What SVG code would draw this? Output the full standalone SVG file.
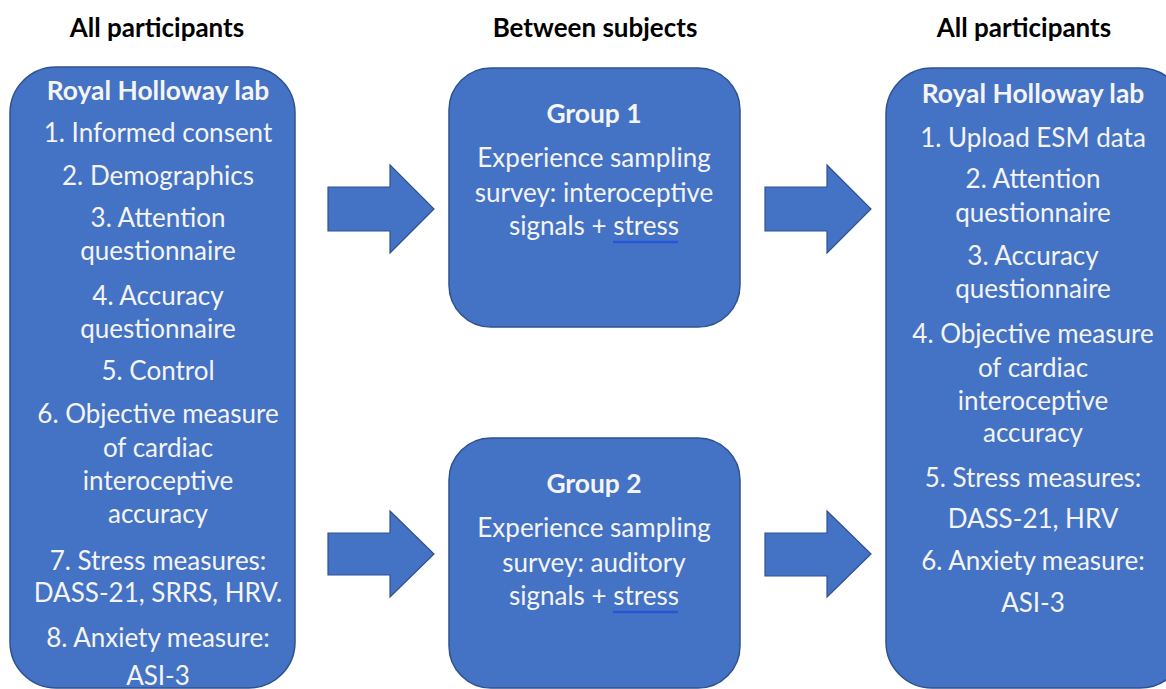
<svg xmlns="http://www.w3.org/2000/svg" width="1166" height="689" viewBox="0 0 1166 689">
<style>
.box{fill:#4472C4;stroke:#2F528F;stroke-width:1.5}
.arr{fill:#4472C4;stroke:#2F528F;stroke-width:1.2}
.t{font-family:Lato,"Liberation Sans",sans-serif;font-size:26px;fill:#F4F4F4;text-anchor:middle}
.b{font-weight:bold;font-size:26.4px}
.h{font-family:Lato,"Liberation Sans",sans-serif;font-size:26px;font-weight:bold;fill:#000;text-anchor:middle}
.ul{stroke:#2457D6;stroke-width:2.5}
</style>
<rect width="1166" height="689" fill="#fff"/>
<g id="headers">
<text class="h" x="157" y="37">All participants</text>
<text class="h" x="595" y="37">Between subjects</text>
<text class="h" x="1024" y="37">All participants</text>
</g>
<g id="lab1">
<rect class="box" x="10" y="67" width="285" height="621" rx="46" ry="46"/>
<text class="t b" x="158" y="100">Royal Holloway lab</text>
<text class="t" x="158" y="142">1. Informed consent</text>
<text class="t" x="158" y="185">2. Demographics</text>
<text class="t" x="158" y="227">3. Attention</text>
<text class="t" x="158" y="260">questionnaire</text>
<text class="t" x="158" y="305">4. Accuracy</text>
<text class="t" x="158" y="338">questionnaire</text>
<text class="t" x="158" y="380">5. Control</text>
<text class="t" x="158" y="423">6. Objective measure</text>
<text class="t" x="158" y="457">of cardiac</text>
<text class="t" x="158" y="490">interoceptive</text>
<text class="t" x="158" y="523">accuracy</text>
<text class="t" x="158" y="570">7. Stress measures:</text>
<text class="t" x="158" y="602">DASS-21, SRRS, HRV.</text>
<text class="t" x="158" y="647">8. Anxiety measure:</text>
<text class="t" x="158" y="685">ASI-3</text>
</g>
<g id="group1">
<rect class="box" x="449" y="68" width="291" height="259" rx="42" ry="42"/>
<text class="t b" x="594" y="123">Group 1</text>
<text class="t" x="594" y="167">Experience sampling</text>
<text class="t" x="594" y="202">survey: interoceptive</text>
<text class="t" x="594" y="235">signals + stress</text>
<line class="ul" x1="613" y1="242" x2="678" y2="242"/>
</g>
<g id="group2">
<rect class="box" x="449" y="438" width="291" height="250" rx="42" ry="42"/>
<text class="t b" x="594" y="493">Group 2</text>
<text class="t" x="594" y="537">Experience sampling</text>
<text class="t" x="594" y="572">survey: auditory</text>
<text class="t" x="594" y="605">signals + stress</text>
<line class="ul" x1="613" y1="612" x2="678" y2="612"/>
</g>
<g id="lab2">
<rect class="box" x="886" y="68" width="300" height="620" rx="46" ry="46"/>
<text class="t b" x="1033" y="103">Royal Holloway lab</text>
<text class="t" x="1033" y="147">1. Upload ESM data</text>
<text class="t" x="1033" y="188">2. Attention</text>
<text class="t" x="1033" y="222">questionnaire</text>
<text class="t" x="1033" y="265">3. Accuracy</text>
<text class="t" x="1033" y="298">questionnaire</text>
<text class="t" x="1033" y="343">4. Objective measure</text>
<text class="t" x="1033" y="377">of cardiac</text>
<text class="t" x="1033" y="410">interoceptive</text>
<text class="t" x="1033" y="442">accuracy</text>
<text class="t" x="1033" y="487">5. Stress measures:</text>
<text class="t" x="1033" y="528">DASS-21, HRV</text>
<text class="t" x="1033" y="570">6. Anxiety measure:</text>
<text class="t" x="1033" y="612">ASI-3</text>
</g>
<g id="connectors">
<polygon class="arr" points="328,187 390,187 390,165 434,209 390,253 390,231 328,231"/>
<polygon class="arr" points="765,187 827,187 827,165 871,209 827,253 827,231 765,231"/>
<polygon class="arr" points="328,533 390,533 390,511 434,554 390,597 390,575 328,575"/>
<polygon class="arr" points="765,533 827,533 827,511 871,554 827,597 827,576 765,576"/>
</g>
</svg>
